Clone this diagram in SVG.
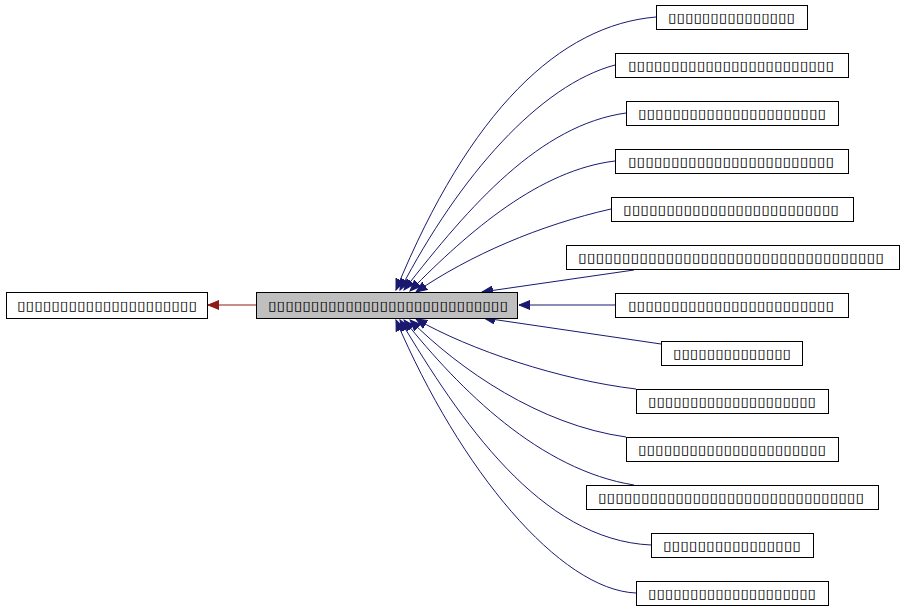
<svg xmlns="http://www.w3.org/2000/svg" width="904" height="611" viewBox="0 0 904 611">
<style>
.n{fill:#fff;stroke:#000;stroke-width:1}
.t{font-family:"DejaVu Sans",sans-serif;font-size:13px;fill:#000}
.e{fill:none;stroke:#191970;stroke-width:1}
</style>
<defs>
<marker id="a" markerWidth="12" markerHeight="10" refX="11" refY="5" orient="auto" markerUnits="userSpaceOnUse"><path d="M0,0.5 L11,5 L0,9.5 Z" fill="#191970" stroke="#191970"/></marker>
<marker id="r" markerWidth="12" markerHeight="10" refX="11" refY="5" orient="auto" markerUnits="userSpaceOnUse"><path d="M0,0.5 L11,5 L0,9.5 Z" fill="#8b1a1a" stroke="#8b1a1a"/></marker>
</defs>
<rect width="904" height="611" fill="#fff"/>
<g id="edges">
<path d="M256,305 L208,305" fill="none" stroke="#8b1a1a" marker-end="url(#r)"/>
<path class="e" d="M656,17 C560,25 470,110 396,290" marker-end="url(#a)"/>
<path class="e" d="M615,65 C540,85 460,175 400,290" marker-end="url(#a)"/>
<path class="e" d="M626,113 C540,125 470,205 404,290" marker-end="url(#a)"/>
<path class="e" d="M615,161 C540,170 470,230 410,291" marker-end="url(#a)"/>
<path class="e" d="M611,209 C540,225 470,255 416,292" marker-end="url(#a)"/>
<path class="e" d="M634,270 L482,292" marker-end="url(#a)"/>
<path class="e" d="M615,305 L519,305" marker-end="url(#a)"/>
<path class="e" d="M661,344 L484,318" marker-end="url(#a)"/>
<path class="e" d="M636,389 C560,380 470,350 416,319" marker-end="url(#a)"/>
<path class="e" d="M626,437 C540,425 460,370 410,320" marker-end="url(#a)"/>
<path class="e" d="M634,485 C540,470 460,390 404,320" marker-end="url(#a)"/>
<path class="e" d="M651,545 C540,540 460,420 400,320" marker-end="url(#a)"/>
<path class="e" d="M636,593 C560,590 460,470 396,320" marker-end="url(#a)"/>
</g>
<g id="nleft"><rect class="n" x="6.5" y="292.5" width="201" height="26"/><text class="t" x="17" y="310" textLength="180" lengthAdjust="spacingAndGlyphs">▯▯▯▯▯▯▯▯▯▯▯▯▯▯▯▯▯▯▯▯▯</text></g>
<g id="nmain"><rect class="n" x="256.5" y="292.5" width="261" height="26" style="fill:#bfbfbf"/><text class="t" x="268" y="310" textLength="240" lengthAdjust="spacingAndGlyphs">▯▯▯▯▯▯▯▯▯▯▯▯▯▯▯▯▯▯▯▯▯▯▯▯▯▯▯▯</text></g>
<g id="n1"><rect class="n" x="656.5" y="5.5" width="151" height="24"/><text class="t" x="668" y="22" textLength="127" lengthAdjust="spacingAndGlyphs">▯▯▯▯▯▯▯▯▯▯▯▯▯▯▯</text></g>
<g id="n2"><rect class="n" x="615.5" y="53.5" width="233" height="24"/><text class="t" x="628" y="70" textLength="206" lengthAdjust="spacingAndGlyphs">▯▯▯▯▯▯▯▯▯▯▯▯▯▯▯▯▯▯▯▯▯▯▯▯</text></g>
<g id="n3"><rect class="n" x="626.5" y="101.5" width="212" height="24"/><text class="t" x="638" y="118" textLength="188" lengthAdjust="spacingAndGlyphs">▯▯▯▯▯▯▯▯▯▯▯▯▯▯▯▯▯▯▯▯▯▯</text></g>
<g id="n4"><rect class="n" x="615.5" y="149.5" width="233" height="24"/><text class="t" x="628" y="166" textLength="206" lengthAdjust="spacingAndGlyphs">▯▯▯▯▯▯▯▯▯▯▯▯▯▯▯▯▯▯▯▯▯▯▯▯</text></g>
<g id="n5"><rect class="n" x="611.5" y="197.5" width="242" height="24"/><text class="t" x="623" y="214" textLength="216" lengthAdjust="spacingAndGlyphs">▯▯▯▯▯▯▯▯▯▯▯▯▯▯▯▯▯▯▯▯▯▯▯▯▯</text></g>
<g id="n6"><rect class="n" x="566.5" y="245.5" width="333" height="24"/><text class="t" x="578" y="262" textLength="306" lengthAdjust="spacingAndGlyphs">▯▯▯▯▯▯▯▯▯▯▯▯▯▯▯▯▯▯▯▯▯▯▯▯▯▯▯▯▯▯▯▯▯▯▯</text></g>
<g id="n7"><rect class="n" x="615.5" y="293.5" width="233" height="24"/><text class="t" x="628" y="310" textLength="206" lengthAdjust="spacingAndGlyphs">▯▯▯▯▯▯▯▯▯▯▯▯▯▯▯▯▯▯▯▯▯▯▯▯</text></g>
<g id="n8"><rect class="n" x="661.5" y="341.5" width="141" height="24"/><text class="t" x="673" y="358" textLength="118" lengthAdjust="spacingAndGlyphs">▯▯▯▯▯▯▯▯▯▯▯▯▯▯</text></g>
<g id="n9"><rect class="n" x="636.5" y="389.5" width="192" height="24"/><text class="t" x="648" y="406" textLength="168" lengthAdjust="spacingAndGlyphs">▯▯▯▯▯▯▯▯▯▯▯▯▯▯▯▯▯▯▯▯</text></g>
<g id="n10"><rect class="n" x="626.5" y="437.5" width="212" height="24"/><text class="t" x="638" y="454" textLength="188" lengthAdjust="spacingAndGlyphs">▯▯▯▯▯▯▯▯▯▯▯▯▯▯▯▯▯▯▯▯▯▯</text></g>
<g id="n11"><rect class="n" x="586.5" y="485.5" width="292" height="24"/><text class="t" x="598" y="502" textLength="266" lengthAdjust="spacingAndGlyphs">▯▯▯▯▯▯▯▯▯▯▯▯▯▯▯▯▯▯▯▯▯▯▯▯▯▯▯▯▯▯▯</text></g>
<g id="n12"><rect class="n" x="651.5" y="533.5" width="162" height="24"/><text class="t" x="663" y="550" textLength="138" lengthAdjust="spacingAndGlyphs">▯▯▯▯▯▯▯▯▯▯▯▯▯▯▯▯</text></g>
<g id="n13"><rect class="n" x="636.5" y="581.5" width="192" height="24"/><text class="t" x="648" y="598" textLength="168" lengthAdjust="spacingAndGlyphs">▯▯▯▯▯▯▯▯▯▯▯▯▯▯▯▯▯▯▯▯</text></g>
</svg>
